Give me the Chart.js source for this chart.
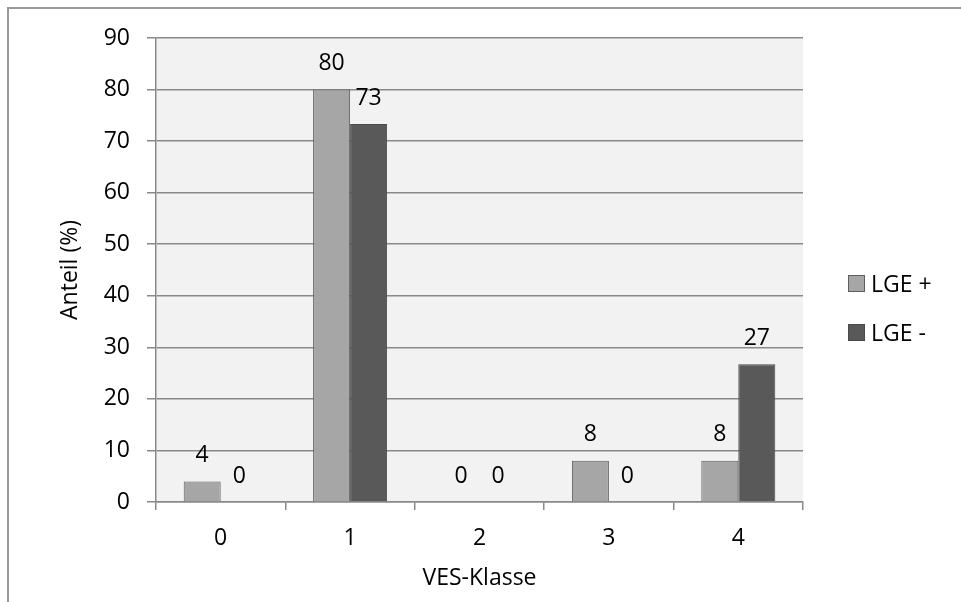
<!DOCTYPE html>
<html>
<head>
<meta charset="utf-8">
<script src="https://cdn.jsdelivr.net/npm/chart.js@4"></script>
<style>
	body { margin: 0; background: #fff; }
	#wrap { position: relative; width: 961px; height: 602px; overflow: hidden; font-family: 'Open Sans', sans-serif; }
	#frame { position: absolute; left: 7px; top: 7px; width: 1000px; height: 700px; border-left: 2px solid #999; border-top: 2px solid #999; }
	#legend { position: absolute; left: 848px; top: 269px; }
	.item { display: flex; align-items: center; height: 28px; margin-bottom: 21px; font-size: 23px; color: #000; }
	.box { width: 15px; height: 15px; margin-right: 6px; }
</style>
</head>
<body>
<div id="wrap">
	<div id="frame"></div>
	<canvas id="chart" width="961" height="602"></canvas>
	<div id="legend"></div>
</div>
<script>
const categories = ['0', '1', '2', '3', '4'];
const lgePlus = [4, 80, 0, 8, 8];
const lgeMinus = [0, 73.3, 0, 0, 26.7];
const yTicks = [0, 10, 20, 30, 40, 50, 60, 70, 80, 90];

const font = 'Open Sans';

// grauer Hintergrund im Plotbereich
const plotBg = {
	id: 'plotBg',
	beforeDraw(chart) {
		const { ctx, chartArea: a } = chart;
		ctx.save();
		ctx.fillStyle = '#f2f2f2';
		ctx.fillRect(a.left, a.top, a.right - a.left, a.bottom - a.top);
		ctx.restore();
	},
};

// Werte über den Balken
const barLabels = {
	id: 'barLabels',
	afterDatasetsDraw(chart) {
		const ctx = chart.ctx;
		ctx.save();
		ctx.font = `23px "${font}"`;
		ctx.fillStyle = '#000';
		ctx.textAlign = 'center';
		ctx.textBaseline = 'middle';
		chart.data.datasets.forEach((ds, i) => {
			chart.getDatasetMeta(i).data.forEach((bar, j) => {
				ctx.fillText(Math.round(ds.data[j]), bar.x, bar.y - 26);
			});
		});
		ctx.restore();
	},
};

const ctx = document.getElementById('chart');
const chart = new Chart(ctx, {
	type: 'bar',
	data: {
		labels: categories,
		datasets: [
			{
				label: 'LGE +',
				data: lgePlus,
				backgroundColor: '#a6a6a6',
				borderColor: '#5f5f5f',
				borderWidth: 1,
			},
			{
				label: 'LGE -',
				data: lgeMinus,
				backgroundColor: '#595959',
				borderColor: '#4a4a4a',
				borderWidth: 1,
			},
		],
	},
	plugins: [plotBg, barLabels],
	options: {
		responsive: false,
		animation: false,
		devicePixelRatio: 1,
		layout: { padding: { left: 8, top: 38, right: 158, bottom: 0 } },
		datasets: { bar: { categoryPercentage: 0.572, barPercentage: 1 } },
		plugins: { legend: { display: false }, tooltip: { enabled: false } },
		scales: {
			x: {
				afterFit: (s) => { s.height = 100; },
				border: { color: '#898989', width: 1.5 },
				grid: { offset: true, drawOnChartArea: false, drawTicks: true, tickLength: 8, color: '#898989', lineWidth: 1.5 },
				ticks: { color: '#000', font: { family: font, size: 23 }, padding: 15 },
				title: { display: true, text: 'VES-Klasse', color: '#000', font: { family: font, size: 23 }, padding: { top: 4, bottom: 10 } },
			},
			y: {
				min: 0,
				max: 90,
				afterFit: (s) => { s.width = 148; },
				afterBuildTicks: (s) => { s.ticks = yTicks.map((v) => ({ value: v })); },
				border: { color: '#898989', width: 1.5 },
				grid: { color: '#898989', lineWidth: 1.5, tickLength: 9 },
				ticks: { color: '#000', font: { family: font, size: 23 }, padding: 17 },
				title: { display: true, text: 'Anteil (%)', color: '#000', font: { family: font, size: 23 }, padding: { top: 49, bottom: 0 } },
			},
		},
	},
});

// Legende rechts
const legend = document.getElementById('legend');
chart.data.datasets.forEach((ds) => {
	const item = document.createElement('div');
	item.className = 'item';
	item.innerHTML = `<span class="box" style="background:${ds.backgroundColor};border:1px solid ${ds.borderColor}"></span>${ds.label}`;
	legend.appendChild(item);
});
</script>
</body>
</html>
